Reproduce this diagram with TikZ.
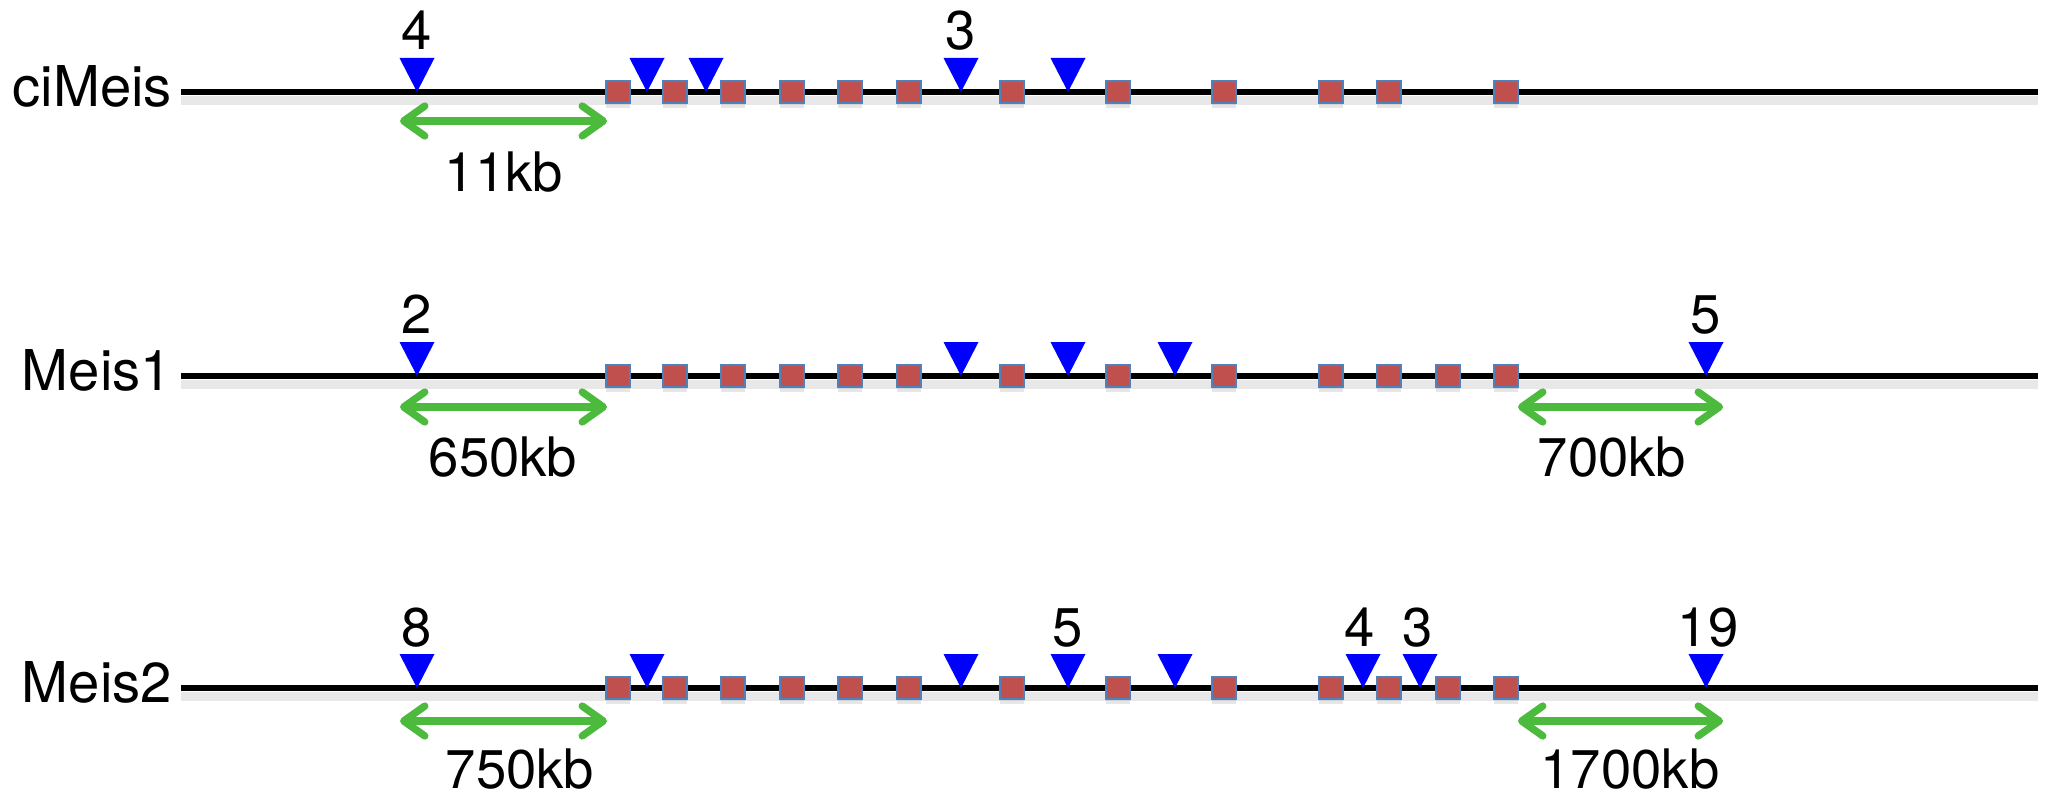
\documentclass[tikz,border=0pt]{standalone}
\usepackage{fontspec}
\setmainfont{TeX Gyre Heros}
\usetikzlibrary{arrows.meta, positioning, shadows}

\definecolor{insblue}{RGB}{0,0,255}
\definecolor{spangreen}{RGB}{76,186,60}
\definecolor{exonred}{RGB}{192,80,77}
\definecolor{exonedge}{RGB}{79,129,189}

\tikzset{
  gene/.style={line width=3pt, black},
  geneshadow/.style={line width=5pt, black!9},
  exon/.style={rectangle, draw=exonedge, fill=exonred, line width=1.1pt, minimum width=13.5pt, minimum height=12.5pt, inner sep=0pt,
    drop shadow={shadow xshift=0pt, shadow yshift=-3pt, opacity=.2}},
  span/.style={spangreen, line width=4.2pt, {Straight Barb[length=12pt,width=17pt,round]}-{Straight Barb[length=12pt,width=17pt,round]}},
  genelabel/.style={font=\fontsize{32}{38}\selectfont, inner sep=0pt},
  count/.style={font=\fontsize{31}{37}\selectfont, inner sep=0pt, anchor=base},
}

\begin{document}
\begin{tikzpicture}[x=0.02cm, y=-0.02cm]

        \useasboundingbox (0, 0) rectangle (2057, 800);

        % gene lines
        \coordinate (s1) at (181, 92);  \coordinate (t1) at (2038, 92);
        \coordinate (s2) at (181, 376); \coordinate (t2) at (2038, 376);
        \coordinate (s3) at (181, 688); \coordinate (t3) at (2038, 688);

        \node[genelabel, left=5pt of s1, yshift=3.4pt] (ciMeis) {ciMeis};
        \node[genelabel, left=5pt of s2, yshift=3.4pt] (Meis1) {Meis1};
        \node[genelabel, left=5pt of s3, yshift=3.4pt] (Meis2) {Meis2};

        \draw[geneshadow] ([yshift=-5pt]s1) -- ([yshift=-5pt]t1);
        \draw[geneshadow] ([yshift=-5pt]s2) -- ([yshift=-5pt]t2);
        \draw[geneshadow] ([yshift=-5pt]s3) -- ([yshift=-5pt]t3);
        \draw[gene] (s1) -- (t1);
        \draw[gene] (s2) -- (t2);
        \draw[gene] (s3) -- (t3);

        % exons
        \foreach \x [count=\i] in {618, 675, 733, 792, 850, 909, 1012, 1118, 1224, 1331, 1389, 1506}
            \node[exon] (ex1-\i) at (\x, 92) {};
        \foreach \x [count=\i] in {618, 675, 733, 792, 850, 909, 1012, 1118, 1224, 1331, 1389, 1448, 1506}
            \node[exon] (ex2-\i) at (\x, 376) {};
        \foreach \x [count=\i] in {618, 675, 733, 792, 850, 909, 1012, 1118, 1224, 1331, 1389, 1448, 1506}
            \node[exon] (ex3-\i) at (\x, 688) {};

        % insertions
        \foreach \x in {417, 647, 706, 961, 1068}
            \fill[insblue] (\x, 92) -- ++(-17.5, -34) -- ++(35, 0) -- cycle;
        \foreach \x in {417, 961, 1068, 1175, 1706}
            \fill[insblue] (\x, 376) -- ++(-17.5, -34) -- ++(35, 0) -- cycle;
        \foreach \x in {417, 647, 961, 1068, 1175, 1363, 1420, 1706}
            \fill[insblue] (\x, 688) -- ++(-17.5, -34) -- ++(35, 0) -- cycle;

        \node[count] (n1a) at (417, 50) {4};
        \node[count] (n1b) at (961, 50) {3};
        \node[count] (n2a) at (417, 334) {2};
        \node[count] (n2b) at (1706, 334) {5};
        \node[count] (n3a) at (417, 646) {8};
        \node[count] (n3b) at (1068, 646) {5};
        \node[count] (n3c) at (1360, 646) {4};
        \node[count] (n3d) at (1418, 646) {3};
        \node[count] (n3e) at (1708, 646) {19};

        % distances
        \coordinate (d1a) at (400, 121);  \coordinate (d1b) at (607, 121);
        \coordinate (d2a) at (400, 407);  \coordinate (d2b) at (607, 407);
        \coordinate (d2c) at (1518, 407); \coordinate (d2d) at (1723, 407);
        \coordinate (d3a) at (400, 721);  \coordinate (d3b) at (607, 721);
        \coordinate (d3c) at (1518, 721); \coordinate (d3d) at (1723, 721);

        \draw[span] (d1a) -- (d1b);
        \draw[span] (d2a) -- (d2b);
        \draw[span] (d2c) -- (d2d);
        \draw[span] (d3a) -- (d3b);
        \draw[span] (d3c) -- (d3d);

        \node[count] (kb1) at (504, 192) {11kb};
        \node[count] (kb2) at (503, 476) {650kb};
        \node[count] (kb3) at (1612, 476) {700kb};
        \node[count] (kb4) at (520, 788) {750kb};
        \node[count] (kb5) at (1630, 788) {1700kb};

\end{tikzpicture}
\end{document}
